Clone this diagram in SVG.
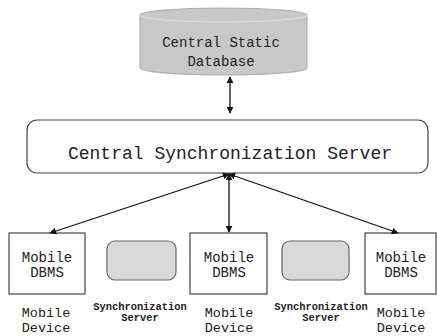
<svg xmlns="http://www.w3.org/2000/svg" width="437" height="336" viewBox="0 0 437 336">
<defs>
<style>
text{font-family:"Liberation Mono","DejaVu Sans Mono",monospace;fill:#222;text-anchor:middle}
.t14{font-size:14px}
.t13{font-size:13.5px}
.t18{font-size:18px}
.t11{font-size:10.4px;font-weight:bold}
.box{fill:#fff;stroke:#444;stroke-width:1.2}
.srv{fill:#d9d9d9;stroke:#666;stroke-width:1.2}
.con{stroke:#111;stroke-width:1.3;fill:none;marker-start:url(#ah);marker-end:url(#ah)}
</style>
<marker id="ah" viewBox="0 0 10 10" refX="9" refY="5" markerWidth="7" markerHeight="7" orient="auto-start-reverse" markerUnits="userSpaceOnUse">
<path d="M0,0 L10,5 L0,10 Z" fill="#111"/>
</marker>
</defs>
<rect width="437" height="336" fill="#fff"/>
<g id="central-db">
<path d="M140,15 L140,68 A83.5,7 0 0 0 307,68 L307,15 A83.5,7 0 0 0 140,15 Z" fill="#c8c8c8" stroke="#b0b0b0" stroke-width="1.2"/>
<path d="M140,15 A83.5,7 0 0 0 307,15" fill="none" stroke="#e2e2e2" stroke-width="1"/>
<text class="t14" x="221" y="47">Central Static</text>
<text class="t14" x="221" y="66">Database</text>
</g>
<g id="central-sync">
<rect class="box" x="27" y="120" width="401" height="53" rx="10"/>
<text class="t18" x="230" y="159">Central Synchronization Server</text>
</g>
<g id="device1">
<rect class="box" x="9" y="233" width="76" height="61"/>
<text class="t14" x="47" y="262">Mobile</text>
<text class="t14" x="47" y="277">DBMS</text>
<text class="t13" x="46" y="317">Mobile</text>
<text class="t13" x="46" y="332">Device</text>
</g>
<g id="sync1">
<rect class="srv" x="107" y="241" width="69" height="39" rx="8"/>
<text class="t11" x="140" y="310">Synchronization</text>
<text class="t11" x="140" y="321">Server</text>
</g>
<g id="device2">
<rect class="box" x="190" y="233" width="77" height="61"/>
<text class="t14" x="229" y="262">Mobile</text>
<text class="t14" x="229" y="277">DBMS</text>
<text class="t13" x="229" y="317">Mobile</text>
<text class="t13" x="229" y="332">Device</text>
</g>
<g id="sync2">
<rect class="srv" x="282" y="241" width="67" height="39" rx="8"/>
<text class="t11" x="321" y="310">Synchronization</text>
<text class="t11" x="321" y="321">Server</text>
</g>
<g id="device3">
<rect class="box" x="365" y="233" width="71" height="61"/>
<text class="t14" x="401" y="262">Mobile</text>
<text class="t14" x="401" y="277">DBMS</text>
<text class="t13" x="401" y="317">Mobile</text>
<text class="t13" x="401" y="332">Device</text>
</g>
<g id="connectors">
<line class="con" x1="230" y1="77" x2="230" y2="113"/>
<line class="con" x1="229" y1="174" x2="50" y2="233"/>
<line class="con" x1="229" y1="174" x2="229" y2="232"/>
<line class="con" x1="229" y1="174" x2="398" y2="233"/>
</g>
</svg>
